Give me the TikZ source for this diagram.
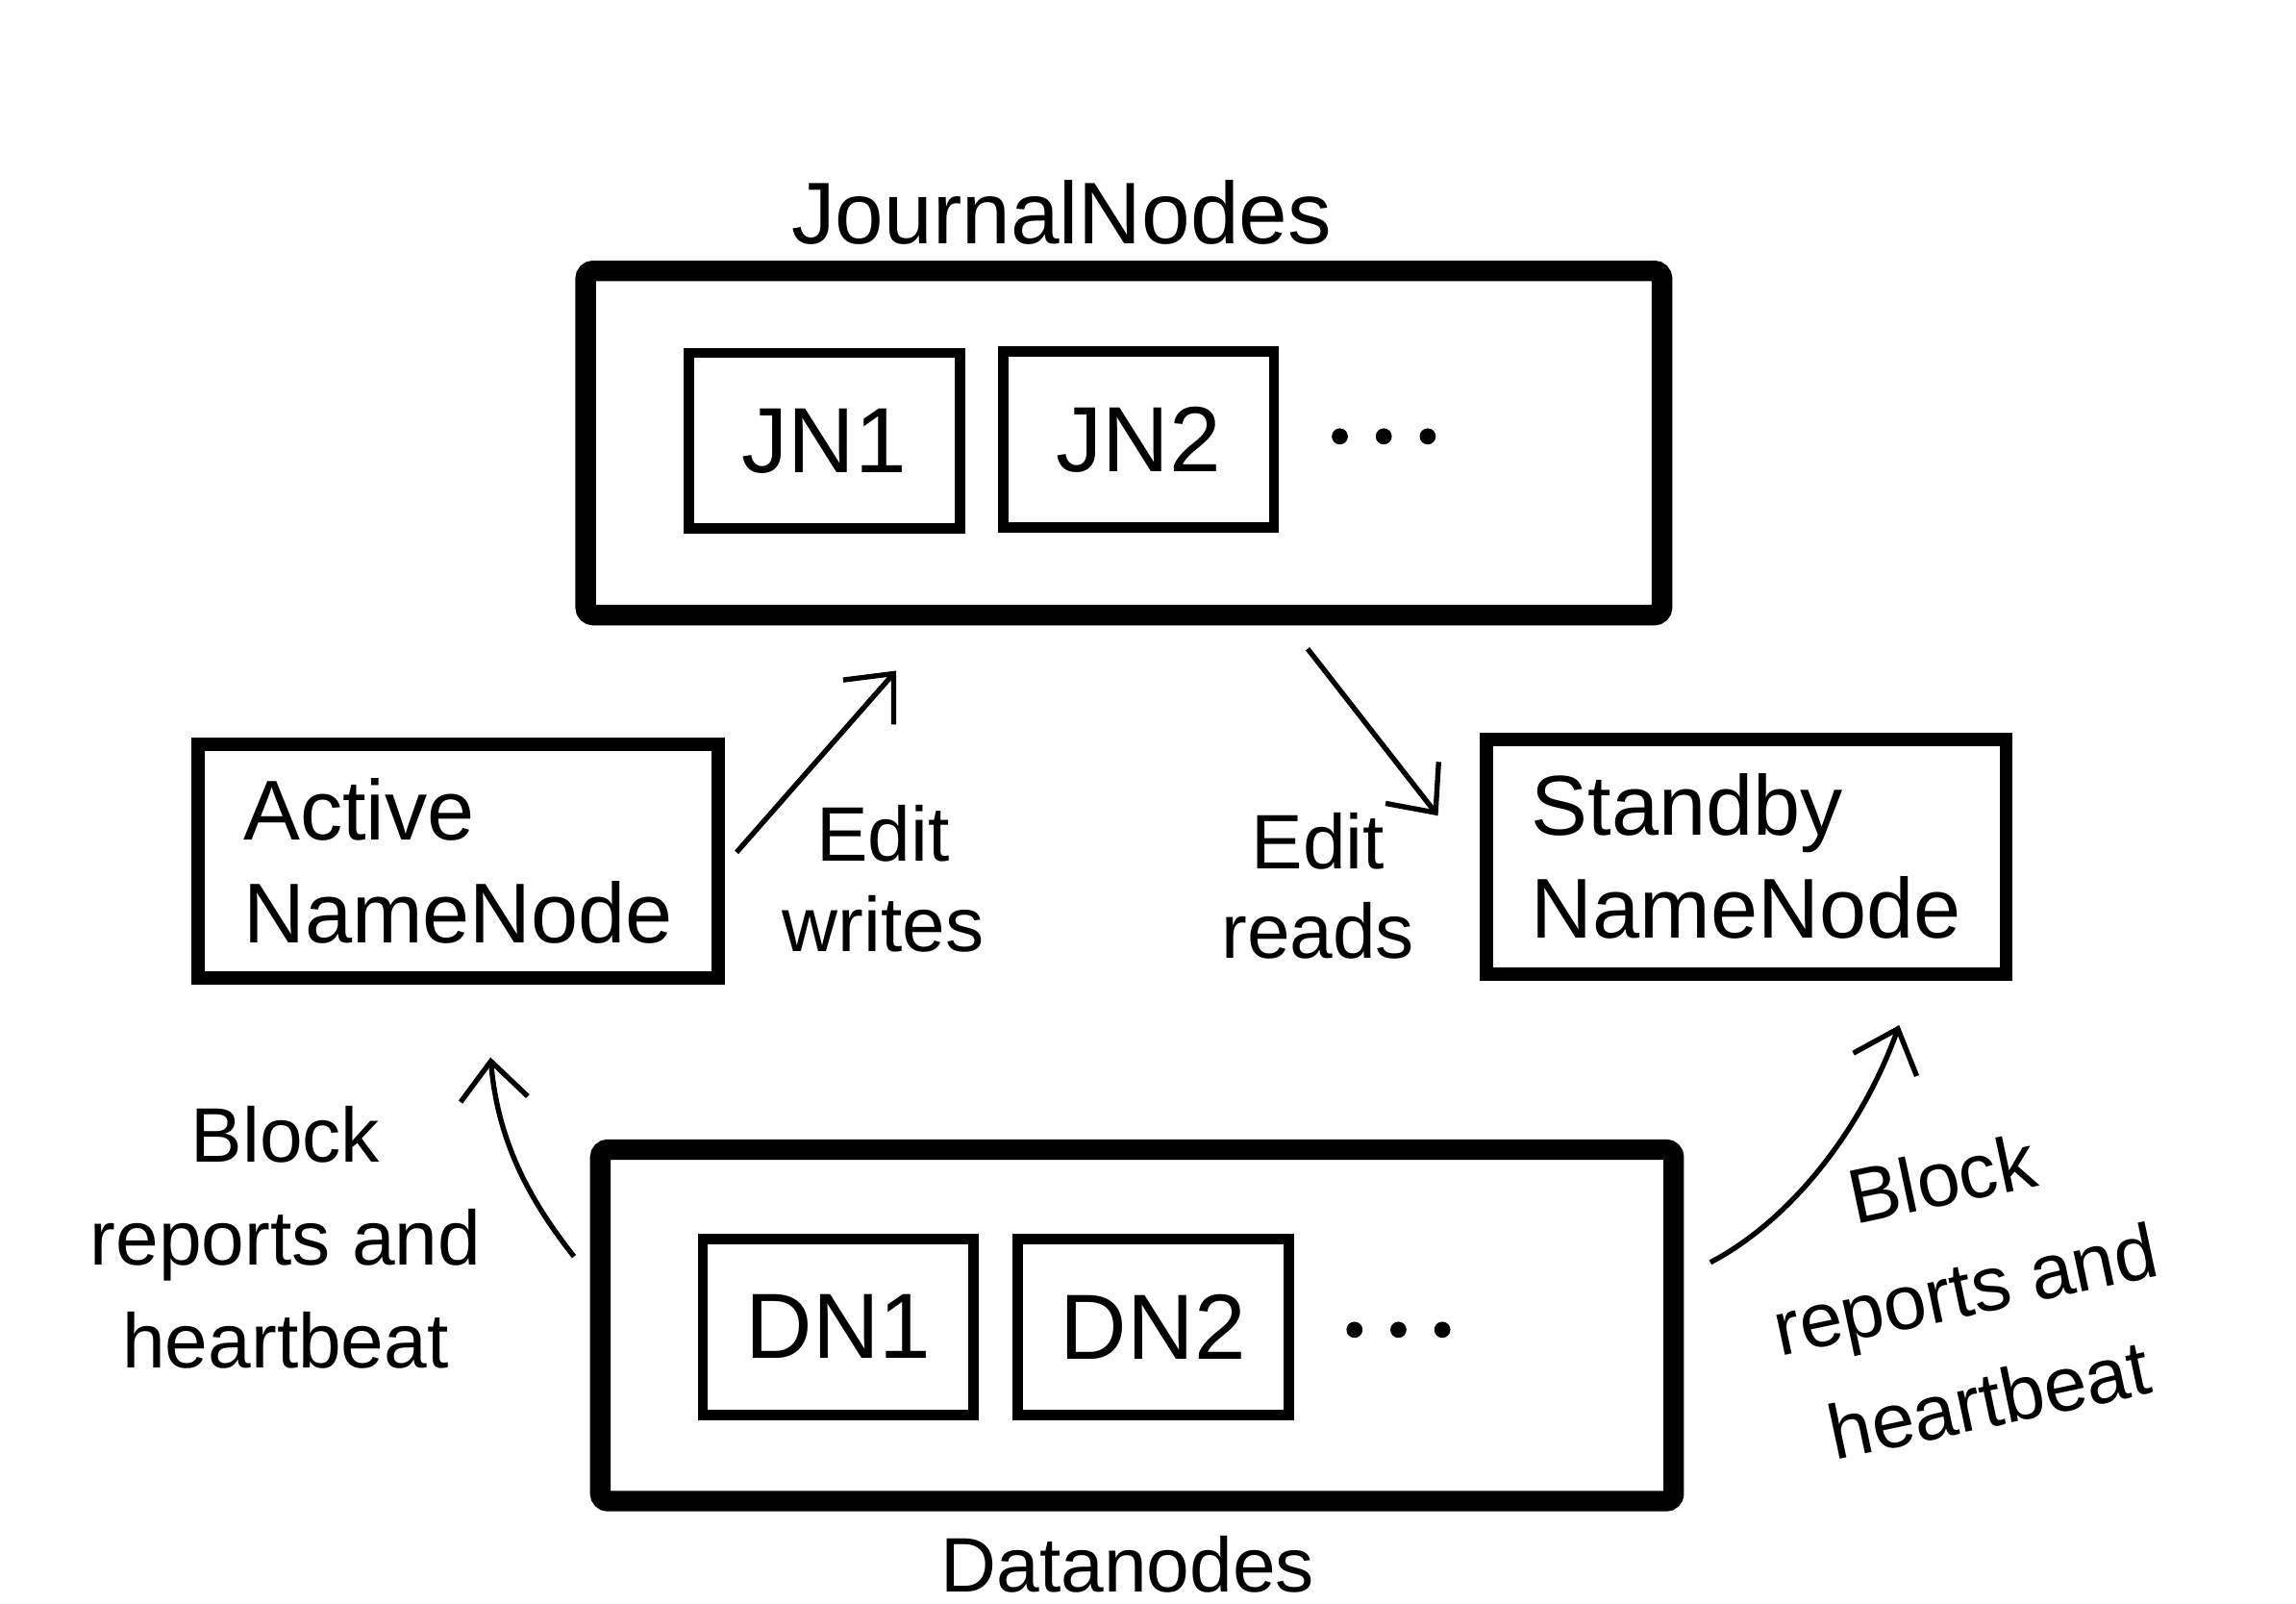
\documentclass[tikz,border=0pt]{standalone}
\usepackage{fontspec}
\setmainfont{Liberation Sans}
\usetikzlibrary{positioning,arrows.meta}

\tikzset{
  groupbox/.style={draw, line width=4pt, rounded corners=1.5pt},
  membox/.style={draw, line width=2pt, minimum width=1.85cm, minimum height=1.2cm, font=\fontsize{18}{20}\selectfont},
  namebox/.style={draw, line width=2.6pt, minimum width=3.55cm, minimum height=1.6cm, align=left, font=\fontsize{16.5}{20}\selectfont},
  note/.style={align=center, font=\fontsize{15}{17.5}\selectfont},
  flow/.style={line width=1pt, -{Straight Barb[length=2.6mm, width=4.6mm, line width=1pt]}}
}

\begin{document}
\begin{tikzpicture}
  \useasboundingbox (0,0) rectangle (15.68,10.95);

  \node[groupbox, minimum width=7.35cm, minimum height=2.35cm] (journal) at (7.675,7.925) {};
  \node[font=\fontsize{17}{20}\selectfont] (journallabel) at (7.25,9.50) {JournalNodes};
  \node[membox] (jn1) at (5.63,7.94) {JN1};
  \node[membox] (jn2) at (7.775,7.95) {JN2};
  \foreach \x in {9.15,9.45,9.75} \fill (\x,7.97) circle (0.055);

  \node[namebox] (active) at (3.13,5.07) {Active\\NameNode};
  \node[namebox] (standby) at (11.925,5.10) {Standby\\NameNode};

  \coordinate (wfrom) at (5.03,5.13);
  \coordinate (wto) at (6.12,6.37);
  \draw[flow] (wfrom) -- (wto);
  \node[note] (writes) at (6.03,4.95) {Edit\\writes};

  \coordinate (rfrom) at (8.93,6.52);
  \coordinate (rto) at (9.82,5.38);
  \draw[flow] (rfrom) -- (rto);
  \node[note] (reads) at (9.00,4.90) {Edit\\reads};

  \node[groupbox, minimum width=7.33cm, minimum height=2.40cm] (data) at (7.765,1.90) {};
  \node[font=\fontsize{15}{18}\selectfont] (datalabel) at (7.70,0.27) {Datanodes};
  \node[membox] (dn1) at (5.725,1.89) {DN1};
  \node[membox] (dn2) at (7.875,1.89) {DN2};
  \foreach \x in {9.25,9.55,9.85} \fill (\x,1.87) circle (0.055);

  \coordinate (lfrom) at (3.92,2.37);
  \coordinate (lto) at (3.35,3.73);
  \draw[flow] (lfrom) .. controls (3.62,2.75) and (3.40,3.15) .. (lto);
  \node[note, font=\fontsize{15}{20}\selectfont] (lnote) at (1.95,2.50) {Block\\reports and\\heartbeat};

  \coordinate (rbfrom) at (11.68,2.33);
  \coordinate (rbto) at (12.97,3.95);
  \draw[flow] (rbfrom) .. controls (12.20,2.60) and (12.70,3.20) .. (rbto);
  \node[note, rotate=12, font=\fontsize{15}{22}\selectfont] (rnote) at (13.42,2.15) {Block\\reports and\\heartbeat};
\end{tikzpicture}
\end{document}
